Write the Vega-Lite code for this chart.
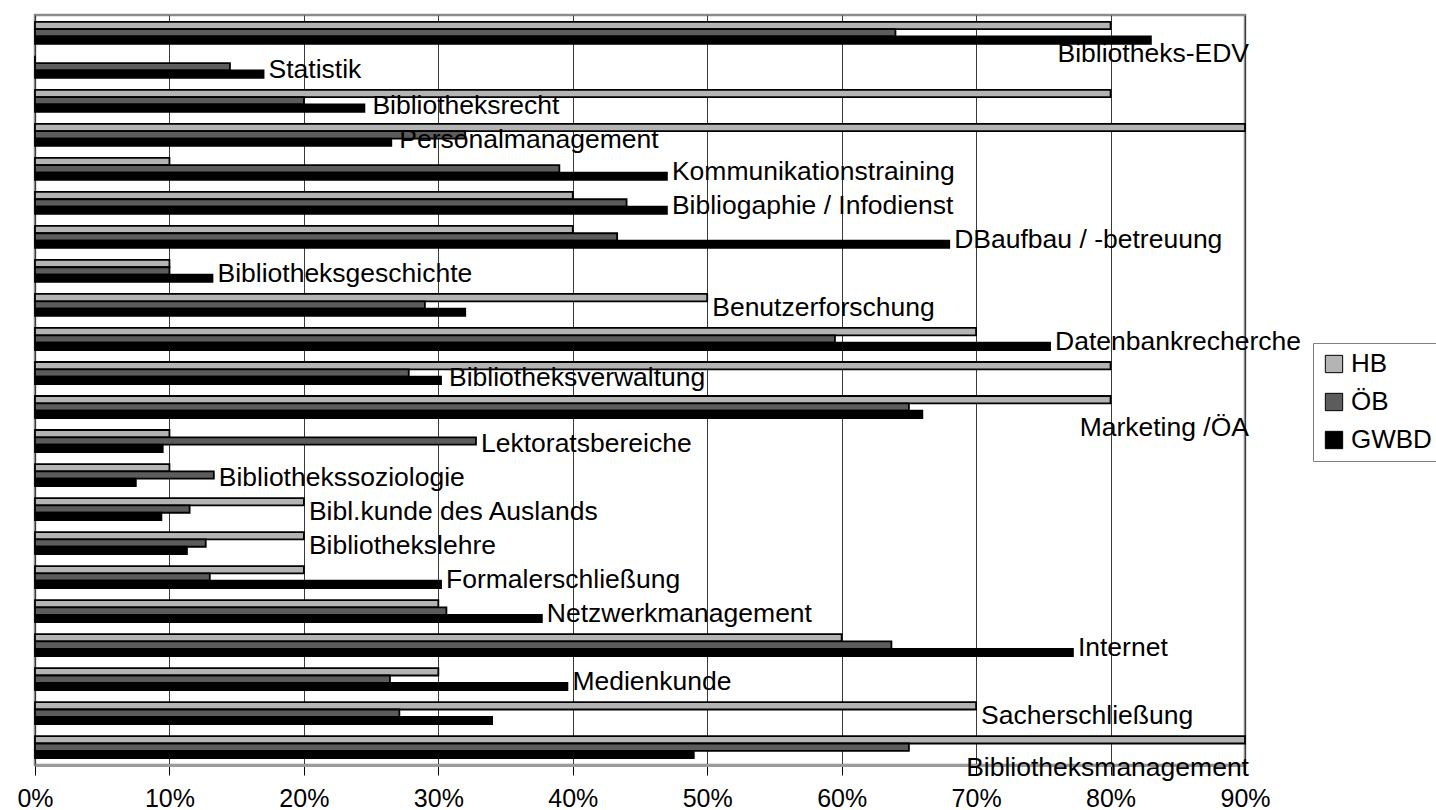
{
  "$schema": "https://vega.github.io/schema/vega-lite/v6.json",
  "width": 1210,
  "height": 750,
  "autosize": {"type": "none"},
  "padding": {"left": 35, "top": 15, "right": 191, "bottom": 45},
  "background": "white",
  "config": {
    "font": "Liberation Sans",
    "view": {"stroke": "#8c8c8c", "strokeWidth": 2.5},
    "text": {"font": "Liberation Sans", "fontSize": 26.5, "fill": "#000000"}
  },
  "datasets": {
    "kurse": [
      {"cat": "Bibliotheks-EDV", "series": "HB", "value": 0.80},
      {"cat": "Bibliotheks-EDV", "series": "ÖB", "value": 0.64},
      {"cat": "Bibliotheks-EDV", "series": "GWBD", "value": 0.83},
      {"cat": "Statistik", "series": "HB", "value": 0.0},
      {"cat": "Statistik", "series": "ÖB", "value": 0.145},
      {"cat": "Statistik", "series": "GWBD", "value": 0.17},
      {"cat": "Bibliotheksrecht", "series": "HB", "value": 0.80},
      {"cat": "Bibliotheksrecht", "series": "ÖB", "value": 0.20},
      {"cat": "Bibliotheksrecht", "series": "GWBD", "value": 0.245},
      {"cat": "Personalmanagement", "series": "HB", "value": 0.90},
      {"cat": "Personalmanagement", "series": "ÖB", "value": 0.32},
      {"cat": "Personalmanagement", "series": "GWBD", "value": 0.265},
      {"cat": "Kommunikationstraining", "series": "HB", "value": 0.10},
      {"cat": "Kommunikationstraining", "series": "ÖB", "value": 0.39},
      {"cat": "Kommunikationstraining", "series": "GWBD", "value": 0.47},
      {"cat": "Bibliogaphie / Infodienst", "series": "HB", "value": 0.40},
      {"cat": "Bibliogaphie / Infodienst", "series": "ÖB", "value": 0.44},
      {"cat": "Bibliogaphie / Infodienst", "series": "GWBD", "value": 0.47},
      {"cat": "DBaufbau / -betreuung", "series": "HB", "value": 0.40},
      {"cat": "DBaufbau / -betreuung", "series": "ÖB", "value": 0.433},
      {"cat": "DBaufbau / -betreuung", "series": "GWBD", "value": 0.68},
      {"cat": "Bibliotheksgeschichte", "series": "HB", "value": 0.10},
      {"cat": "Bibliotheksgeschichte", "series": "ÖB", "value": 0.10},
      {"cat": "Bibliotheksgeschichte", "series": "GWBD", "value": 0.132},
      {"cat": "Benutzerforschung", "series": "HB", "value": 0.50},
      {"cat": "Benutzerforschung", "series": "ÖB", "value": 0.29},
      {"cat": "Benutzerforschung", "series": "GWBD", "value": 0.32},
      {"cat": "Datenbankrecherche", "series": "HB", "value": 0.70},
      {"cat": "Datenbankrecherche", "series": "ÖB", "value": 0.595},
      {"cat": "Datenbankrecherche", "series": "GWBD", "value": 0.755},
      {"cat": "Bibliotheksverwaltung", "series": "HB", "value": 0.80},
      {"cat": "Bibliotheksverwaltung", "series": "ÖB", "value": 0.278},
      {"cat": "Bibliotheksverwaltung", "series": "GWBD", "value": 0.302},
      {"cat": "Marketing /ÖA", "series": "HB", "value": 0.80},
      {"cat": "Marketing /ÖA", "series": "ÖB", "value": 0.65},
      {"cat": "Marketing /ÖA", "series": "GWBD", "value": 0.66},
      {"cat": "Lektoratsbereiche", "series": "HB", "value": 0.10},
      {"cat": "Lektoratsbereiche", "series": "ÖB", "value": 0.328},
      {"cat": "Lektoratsbereiche", "series": "GWBD", "value": 0.095},
      {"cat": "Bibliothekssoziologie", "series": "HB", "value": 0.10},
      {"cat": "Bibliothekssoziologie", "series": "ÖB", "value": 0.133},
      {"cat": "Bibliothekssoziologie", "series": "GWBD", "value": 0.075},
      {"cat": "Bibl.kunde des Auslands", "series": "HB", "value": 0.20},
      {"cat": "Bibl.kunde des Auslands", "series": "ÖB", "value": 0.115},
      {"cat": "Bibl.kunde des Auslands", "series": "GWBD", "value": 0.094},
      {"cat": "Bibliothekslehre", "series": "HB", "value": 0.20},
      {"cat": "Bibliothekslehre", "series": "ÖB", "value": 0.127},
      {"cat": "Bibliothekslehre", "series": "GWBD", "value": 0.113},
      {"cat": "Formalerschließung", "series": "HB", "value": 0.20},
      {"cat": "Formalerschließung", "series": "ÖB", "value": 0.13},
      {"cat": "Formalerschließung", "series": "GWBD", "value": 0.302},
      {"cat": "Netzwerkmanagement", "series": "HB", "value": 0.30},
      {"cat": "Netzwerkmanagement", "series": "ÖB", "value": 0.306},
      {"cat": "Netzwerkmanagement", "series": "GWBD", "value": 0.377},
      {"cat": "Internet", "series": "HB", "value": 0.60},
      {"cat": "Internet", "series": "ÖB", "value": 0.637},
      {"cat": "Internet", "series": "GWBD", "value": 0.772},
      {"cat": "Medienkunde", "series": "HB", "value": 0.30},
      {"cat": "Medienkunde", "series": "ÖB", "value": 0.264},
      {"cat": "Medienkunde", "series": "GWBD", "value": 0.396},
      {"cat": "Sacherschließung", "series": "HB", "value": 0.70},
      {"cat": "Sacherschließung", "series": "ÖB", "value": 0.271},
      {"cat": "Sacherschließung", "series": "GWBD", "value": 0.34},
      {"cat": "Bibliotheksmanagement", "series": "HB", "value": 0.90},
      {"cat": "Bibliotheksmanagement", "series": "ÖB", "value": 0.65},
      {"cat": "Bibliotheksmanagement", "series": "GWBD", "value": 0.49}
    ]
  },
  "data": {"name": "kurse"},
  "encoding": {
    "y": {
      "field": "cat",
      "type": "nominal",
      "sort": ["Bibliotheks-EDV", "Statistik", "Bibliotheksrecht", "Personalmanagement", "Kommunikationstraining", "Bibliogaphie / Infodienst", "DBaufbau / -betreuung", "Bibliotheksgeschichte", "Benutzerforschung", "Datenbankrecherche", "Bibliotheksverwaltung", "Marketing /ÖA", "Lektoratsbereiche", "Bibliothekssoziologie", "Bibl.kunde des Auslands", "Bibliothekslehre", "Formalerschließung", "Netzwerkmanagement", "Internet", "Medienkunde", "Sacherschließung", "Bibliotheksmanagement"],
      "scale": {"paddingInner": 0.353, "paddingOuter": 0.2},
      "axis": null
    }
  },
  "layer": [
    {
      "mark": {"type": "bar", "stroke": "#000000", "strokeWidth": 1.8},
      "encoding": {
        "yOffset": {"field": "series", "type": "nominal", "sort": ["HB", "ÖB", "GWBD"], "scale": {"paddingInner": 0, "paddingOuter": 0}},
        "x": {
          "field": "value",
          "type": "quantitative",
          "scale": {"domain": [0, 0.9], "nice": false, "zero": true},
          "axis": {
            "title": null,
            "format": ".0%",
            "values": [0, 0.1, 0.2, 0.3, 0.4, 0.5, 0.6, 0.7, 0.8, 0.9],
            "grid": true,
            "gridColor": "#3a3a3a",
            "gridWidth": 1,
            "tickColor": "#000000",
            "tickSize": 10,
            "tickWidth": 1,
            "domainColor": "#9a9a9a",
            "domainWidth": 3,
            "labelFont": "Liberation Sans",
            "labelFontSize": 25,
            "labelColor": "#000000",
            "labelPadding": 11,
            "labelFlush": false
          }
        },
        "color": {
          "field": "series",
          "type": "nominal",
          "sort": ["HB", "ÖB", "GWBD"],
          "scale": {"domain": ["HB", "ÖB", "GWBD"], "range": ["#b4b4b4", "#5c5c5c", "#000000"]},
          "legend": {
            "title": null,
            "orient": "none",
            "legendX": 1278,
            "legendY": 328,
            "symbolType": "square",
            "symbolSize": 300,
            "symbolStrokeColor": "#000000",
            "symbolStrokeWidth": 1,
            "symbolOpacity": 1,
            "labelFont": "Liberation Sans",
            "labelFontSize": 26,
            "labelColor": "#000000",
            "labelOffset": 4,
            "rowPadding": 12,
            "padding": 8,
            "strokeColor": "#808080",
            "fillColor": "#ffffff"
          }
        }
      }
    },
    {
      "transform": [
        {"joinaggregate": [{"op": "max", "field": "value", "as": "maxv"}], "groupby": ["cat"]},
        {"filter": "datum.series === 'GWBD'"},
        {"filter": "datum.maxv < 0.8"}
      ],
      "mark": {"type": "text", "align": "left", "baseline": "middle", "dx": 5, "dy": 3},
      "encoding": {
        "x": {"field": "maxv", "type": "quantitative"},
        "text": {"field": "cat"}
      }
    },
    {
      "transform": [
        {"joinaggregate": [{"op": "max", "field": "value", "as": "maxv"}], "groupby": ["cat"]},
        {"filter": "datum.series === 'GWBD'"},
        {"filter": "datum.maxv >= 0.8 && datum.value < 0.45"}
      ],
      "mark": {"type": "text", "align": "left", "baseline": "middle", "dx": 8, "dy": 5},
      "encoding": {
        "x": {"field": "value", "type": "quantitative"},
        "text": {"field": "cat"}
      }
    },
    {
      "transform": [
        {"joinaggregate": [{"op": "max", "field": "value", "as": "maxv"}], "groupby": ["cat"]},
        {"filter": "datum.series === 'GWBD'"},
        {"filter": "datum.maxv >= 0.8 && datum.value >= 0.45"}
      ],
      "mark": {"type": "text", "align": "right", "baseline": "middle", "dx": 4, "dy": 21},
      "encoding": {
        "x": {"datum": 0.9, "type": "quantitative"},
        "text": {"field": "cat"}
      }
    }
  ]
}
